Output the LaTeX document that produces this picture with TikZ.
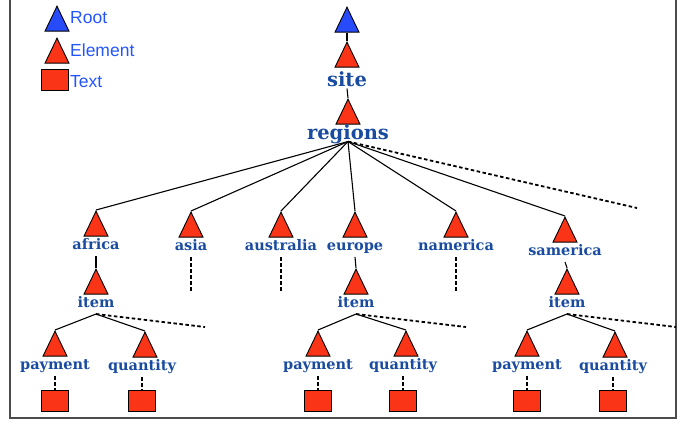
\documentclass[tikz,border=0pt]{standalone}
\usepackage{fontspec}
\setsansfont{Liberation Sans}
\newfontfamily\labfont{DejaVu Serif}
\usetikzlibrary{shapes.geometric}

\definecolor{elemred}{RGB}{250,52,22}
\definecolor{rootblue}{RGB}{40,75,250}
\definecolor{labblue}{RGB}{25,75,160}
\definecolor{legblue}{RGB}{35,85,255}

\tikzset{
  tri/.style={isosceles triangle, isosceles triangle stretches, shape border rotate=90,
    minimum width=24pt, minimum height=25pt, inner sep=0pt, draw=black, line width=0.9pt, anchor=apex},
  elem/.style={tri, fill=elemred},
  rootelem/.style={tri, fill=rootblue},
  textbox/.style={rectangle, draw=black, line width=0.9pt, fill=elemred,
    minimum width=27pt, minimum height=21pt, inner sep=0pt},
  biglab/.style={text=labblue, font=\labfont\bfseries\fontsize{19.5}{21}\selectfont,
    anchor=north, inner sep=0.5pt, text height=14pt, text depth=1.5pt},
  lab/.style={text=labblue, font=\labfont\bfseries\fontsize{14.5}{16}\selectfont,
    anchor=north, inner sep=2.5pt, text height=10pt, text depth=4pt},
  leg/.style={text=legblue, font=\sffamily\fontsize{17.5}{20}\selectfont, anchor=west, inner sep=0pt},
  link/.style={draw=black, line width=1.1pt},
  more/.style={draw=black, line width=1.8pt, dash pattern=on 3.5pt off 2.5pt},
}

\begin{document}
\begin{tikzpicture}[x=1pt,y=-1pt]
	\useasboundingbox (0,0) rectangle (692,424);

	% Frame
	\draw[gray!60!black,line width=1.5pt] (10,0) -- (10,418) -- (676,418) -- (676,0);

	% Legend
	\node[rootelem] (legroot) at (57,5) {};
	\node[leg] (legrootlab) at (70,18) {Root};
	\node[elem] (legelem) at (57,37) {};
	\node[leg] (legelemlab) at (70,50) {Element};
	\node[textbox] (legtext) at (55,80) {};
	\node[leg] (legtextlab) at (70,82) {Text};

	% Root and top elements
	\node[rootelem] (root) at (347,6) {};
	\node[elem] (site) at (347,41) {};
	\node[biglab,yshift=-4pt] (sitelab) at (site.lower side) {site};
	\node[elem] (regions) at (348,98) {};
	\node[biglab] (regionslab) at (regions.lower side) {regions};

	% Regions
	\node[elem] (africa) at (96,210) {};
	\node[lab] (africalab) at (africa.lower side) {africa};
	\node[elem] (asia) at (191,211) {};
	\node[lab] (asialab) at (asia.lower side) {asia};
	\node[elem] (australia) at (281,211) {};
	\node[lab] (australialab) at (australia.lower side) {australia};
	\node[elem] (europe) at (355,211) {};
	\node[lab] (europelab) at (europe.lower side) {europe};
	\node[elem] (namerica) at (456,211) {};
	\node[lab] (namericalab) at (namerica.lower side) {namerica};
	\node[elem] (samerica) at (565,216) {};
	\node[lab] (samericalab) at (samerica.lower side) {samerica};
	\coordinate (regionsmore) at (637,208);
	\coordinate (asiamore) at (asialab.south |- 0,293);
	\coordinate (australiamore) at (australialab.south |- 0,293);
	\coordinate (namericamore) at (namericalab.south |- 0,293);

	% Africa items
	\node[elem] (africaitem) at (96,268) {};
	\node[lab] (africaitemlab) at (africaitem.lower side) {item};
	\node[elem] (africapay) at (55,330) {};
	\node[lab] (africapaylab) at (africapay.lower side) {payment};
	\node[elem] (africaqty) at (145,331) {};
	\node[lab,xshift=-3pt] (africaqtylab) at (africaqty.lower side) {quantity};
	\node[textbox] (africapaytext) at (africapaylab.south |- 0,401) {};
	\node[textbox] (africaqtytext) at (africaqtylab.south |- 0,401) {};
	\coordinate (africamore) at (205,327);

	% Europe items
	\node[elem] (europeitem) at (356,268) {};
	\node[lab] (europeitemlab) at (europeitem.lower side) {item};
	\node[elem] (europepay) at (318,330) {};
	\node[lab] (europepaylab) at (europepay.lower side) {payment};
	\node[elem] (europeqty) at (406,330) {};
	\node[lab,xshift=-3pt] (europeqtylab) at (europeqty.lower side) {quantity};
	\node[textbox] (europepaytext) at (europepaylab.south |- 0,401) {};
	\node[textbox] (europeqtytext) at (europeqtylab.south |- 0,401) {};
	\coordinate (europemore) at (466,327);

	% Samerica items
	\node[elem] (samericaitem) at (567,268) {};
	\node[lab] (samericaitemlab) at (samericaitem.lower side) {item};
	\node[elem] (samericapay) at (527,330) {};
	\node[lab] (samericapaylab) at (samericapay.lower side) {payment};
	\node[elem] (samericaqty) at (615,331) {};
	\node[lab,xshift=-2pt] (samericaqtylab) at (samericaqty.lower side) {quantity};
	\node[textbox] (samericapaytext) at (samericapaylab.south |- 0,401) {};
	\node[textbox] (samericaqtytext) at (samericaqtylab.south |- 0,401) {};
	\coordinate (samericamore) at (676,327);

	% links
	\draw[link] (root.lower side) -- (site.apex);
	\draw[link] (sitelab.south) -- (regions.apex);
	\draw[link] (regionslab.south) -- (africa.apex);
	\draw[link] (regionslab.south) -- (asia.apex);
	\draw[link] (regionslab.south) -- (australia.apex);
	\draw[link] (regionslab.south) -- (europe.apex);
	\draw[link] (regionslab.south) -- (namerica.apex);
	\draw[link] (regionslab.south) -- (samerica.apex);
	\draw[more] (regionslab.south) -- (regionsmore);
	\draw[more] (asialab.south) -- (asiamore);
	\draw[more] (australialab.south) -- (australiamore);
	\draw[more] (namericalab.south) -- (namericamore);

	\draw[link] (africalab.south) -- (africaitem.apex);
	\draw[link] (africaitemlab.south) -- (africapay.apex);
	\draw[link] (africaitemlab.south) -- (africaqty.apex);
	\draw[more] (africaitemlab.south) -- (africamore);
	\draw[more] (africapaylab.south) -- (africapaytext.north);
	\draw[more] (africaqtylab.south) -- (africaqtytext.north);

	\draw[link] (europelab.south) -- (europeitem.apex);
	\draw[link] (europeitemlab.south) -- (europepay.apex);
	\draw[link] (europeitemlab.south) -- (europeqty.apex);
	\draw[more] (europeitemlab.south) -- (europemore);
	\draw[more] (europepaylab.south) -- (europepaytext.north);
	\draw[more] (europeqtylab.south) -- (europeqtytext.north);

	\draw[link] (samericalab.south) -- (samericaitem.apex);
	\draw[link] (samericaitemlab.south) -- (samericapay.apex);
	\draw[link] (samericaitemlab.south) -- (samericaqty.apex);
	\draw[more] (samericaitemlab.south) -- (samericamore);
	\draw[more] (samericapaylab.south) -- (samericapaytext.north);
	\draw[more] (samericaqtylab.south) -- (samericaqtytext.north);

\end{tikzpicture}
\end{document}
